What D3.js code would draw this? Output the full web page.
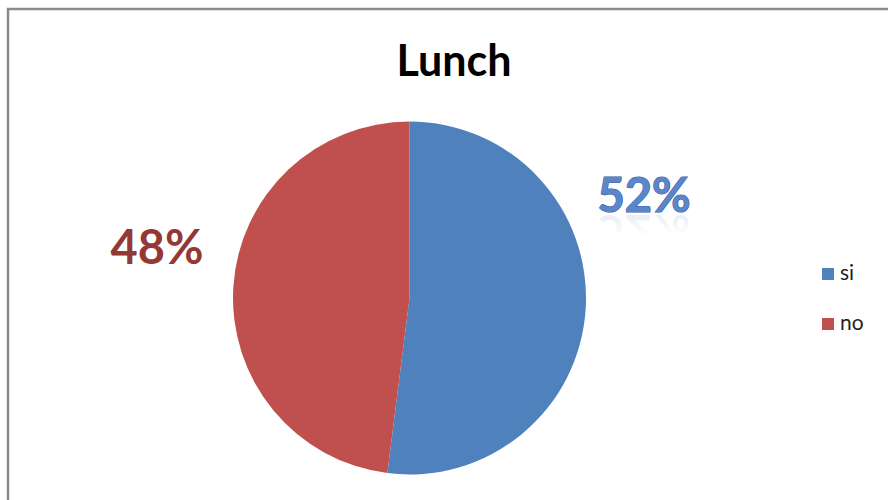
<!DOCTYPE html>
<html>
<head>
<meta charset="utf-8">
<script src="https://cdn.jsdelivr.net/npm/d3@7"></script>
<style>
  html, body { margin: 0; padding: 0; background: #fff; }
  svg { display: block; }
</style>
</head>
<body>
<svg id="chart" width="888" height="500"></svg>
<script>
const categories = ["si", "no"];
const values = [52, 48];
const percentLabels = ["52%", "48%"];
const chartTitle = "Lunch";

const colors = d3.scaleOrdinal().domain(categories).range(["#4F81BD", "#C0504D"]);
const labelColors = d3.scaleOrdinal().domain(categories).range(["#5B86CC", "#953735"]);

const svg = d3.select("#chart");
const font = "Lato, 'Open Sans', sans-serif";

// chart-area frame (left and top edges visible)
svg.append("path")
  .attr("d", "M8,500 L8,9 L888,9")
  .attr("fill", "none")
  .attr("stroke", "#8a8a8a")
  .attr("stroke-width", 2.5);

// fading mask for the mirrored label (opaque near the baseline)
const defs = svg.append("defs");
const grad = defs.append("linearGradient").attr("id", "fade").attr("x1", 0).attr("y1", 0).attr("x2", 0).attr("y2", 1);
grad.append("stop").attr("offset", "45%").attr("stop-color", "#fff").attr("stop-opacity", 0);
grad.append("stop").attr("offset", "100%").attr("stop-color", "#fff").attr("stop-opacity", 0.6);
defs.append("mask").attr("id", "reflMask").attr("maskContentUnits", "objectBoundingBox")
  .append("rect").attr("width", 1).attr("height", 1).attr("fill", "url(#fade)");

svg.append("text")
  .attr("x", 454).attr("y", 76)
  .attr("text-anchor", "middle")
  .attr("font-family", font)
  .attr("font-weight", 700)
  .attr("font-size", 43)
  .attr("fill", "#000")
  .text(chartTitle);

const cx = 409.5, cy = 298, r = 176.5;
const pie = d3.pie().sort(null).value(d => d.value);
const arc = d3.arc().innerRadius(0).outerRadius(r);
const data = categories.map((c, i) => ({ cat: c, value: values[i], label: percentLabels[i] }));
const arcs = pie(data);

const g = svg.append("g").attr("transform", `translate(${cx},${cy})`);
g.selectAll("path")
  .data(arcs)
  .join("path")
  .attr("d", arc)
  .attr("fill", d => colors(d.data.cat));

// data labels placed outside the slices
const labelPos = {
  si: [644, 212],
  no: [157, 264]
};
arcs.forEach(a => {
  const [x, y] = labelPos[a.data.cat];
  const isSi = a.data.cat === "si";
  if (isSi) {
    // soft mirrored reflection just under the label
    svg.append("text")
      .attr("x", x).attr("y", y)
      .attr("text-anchor", "middle")
      .attr("font-family", font).attr("font-weight", 700).attr("font-size", 47)
      .attr("fill", labelColors(a.data.cat))
      .attr("opacity", 0.35)
      .attr("transform", `translate(0,${2 * y + 3}) scale(1,-1)`)
      .attr("mask", "url(#reflMask)")
      .text(a.data.label);
  }
  svg.append("text")
    .attr("x", x).attr("y", y)
    .attr("text-anchor", "middle")
    .attr("font-family", font)
    .attr("font-weight", 700)
    .attr("font-size", 47)
    .attr("fill", labelColors(a.data.cat))
    .attr("stroke", isSi ? "#3B5E9A" : "none")
    .attr("stroke-width", isSi ? 1.2 : 0)
    .attr("paint-order", "stroke")
    .text(a.data.label);
});

// legend
const legend = svg.append("g").attr("transform", "translate(822,268)");
const item = legend.selectAll("g")
  .data(categories)
  .join("g")
  .attr("transform", (d, i) => `translate(0,${i * 50})`);
item.append("rect")
  .attr("width", 12).attr("height", 12)
  .attr("fill", d => colors(d));
item.append("text")
  .attr("x", 18).attr("y", 12)
  .attr("font-family", font)
  .attr("font-size", 21)
  .attr("fill", "#222")
  .text(d => d);
</script>
</body>
</html>
